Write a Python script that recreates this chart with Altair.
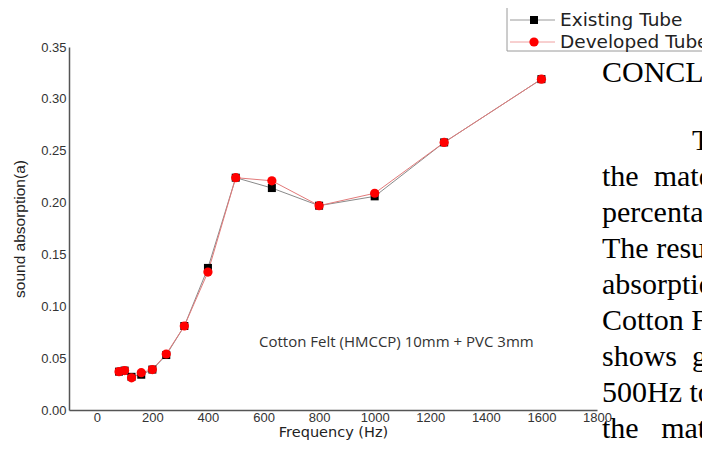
import altair as alt
import pandas as pd

# ---- data ----
freq = [80, 100, 125, 160, 200, 250, 315, 400, 500, 630, 800, 1000, 1250, 1600]
existing = [0.037, 0.038, 0.032, 0.034, 0.039, 0.053, 0.081, 0.137, 0.224, 0.214, 0.197, 0.206, 0.258, 0.319]
developed = [0.037, 0.038, 0.031, 0.036, 0.039, 0.054, 0.081, 0.133, 0.224, 0.221, 0.197, 0.209, 0.258, 0.319]
series_names = ["Existing Tube", "Developed Tube"]
x_ticks = [0, 200, 400, 600, 800, 1000, 1200, 1400, 1600, 1800]
y_ticks = [0.0, 0.05, 0.10, 0.15, 0.20, 0.25, 0.30, 0.35]
note = "Cotton Felt (HMCCP) 10mm + PVC 3mm"
side_text = ["CONCLUSION", "The", "the\u00a0\u00a0material", "percentage", "The results",
             "absorption", "Cotton Felt", "shows\u00a0\u00a0good", "500Hz to", "the\u00a0\u00a0\u00a0material"]

ex_df = pd.DataFrame({"freq": freq, "alpha": existing, "series": series_names[0]})
dev_df = pd.DataFrame({"freq": freq, "alpha": developed, "series": series_names[1]})
one = pd.DataFrame({"k": [0]})

W, H = 528, 363
PAD_L, PAD_T = 61, 39
SVG_W, SVG_H = 694, 432

x_enc = alt.X("freq:Q", scale=alt.Scale(domain=[-100, 1800], nice=False, zero=False),
              axis=alt.Axis(values=x_ticks, format="d", title="Frequency (Hz)",
                            labelFlush=False, labelOverlap=False, labelPadding=1,
                            titleFont="DejaVu Sans", titleFontSize=14.5,
                            titleBaseline="alphabetic", titleY=26))
y_enc = alt.Y("alpha:Q", scale=alt.Scale(domain=[0, 0.35], nice=False, zero=False),
              axis=alt.Axis(values=y_ticks, format=".2f", title="sound absorption(a)",
                            labelOverlap=False, labelPadding=3, labelFlush=False,
                            titleFontSize=15.5, titlePadding=13))

line_ex = alt.Chart(ex_df).mark_line(color="#8a8a8a", strokeWidth=1).encode(x=x_enc, y=y_enc)
line_dev = alt.Chart(dev_df).mark_line(color="#e27a7a", strokeWidth=1).encode(x=x_enc, y=y_enc)
pts_ex = alt.Chart(ex_df).mark_point(shape="square", filled=True, color="#000000",
                                     size=64, opacity=1).encode(x=x_enc, y=y_enc)
pts_dev = alt.Chart(dev_df).mark_point(shape="circle", filled=True, color="#ff0000",
                                       size=85, opacity=1).encode(x=x_enc, y=y_enc)

layers = [line_ex, line_dev, pts_ex, pts_dev]

# annotation inside the plot
layers.append(alt.Chart(one).mark_text(font="Open Sans", fontSize=15, color="#333333",
                                       align="left", baseline="middle").encode(
    x=alt.value(190), y=alt.value(295), text=alt.value(note)))

# manual legend (box clipped at the right edge like the reference)
LX, LY = 438, -40
layers.append(alt.Chart(one).mark_rect(fill="white", stroke="#9a9a9a", strokeWidth=1).encode(
    x=alt.value(LX), x2=alt.value(LX + 300), y=alt.value(LY), y2=alt.value(LY + 44)))
legend_rows = [(series_names[0], "#9a9a9a", "square", "#000000", 64, LY + 13),
               (series_names[1], "#f0a0a0", "circle", "#ff0000", 85, LY + 35)]
for name, lc, shp, mc, sz, yy in legend_rows:
    layers.append(alt.Chart(one).mark_rule(color=lc, strokeWidth=1).encode(
        x=alt.value(LX + 3), x2=alt.value(LX + 48), y=alt.value(yy)))
    layers.append(alt.Chart(one).mark_point(shape=shp, filled=True, color=mc, size=sz,
                                            opacity=1).encode(x=alt.value(LX + 27), y=alt.value(yy)))
    layers.append(alt.Chart(one).mark_text(font="DejaVu Sans", fontSize=18.5, color="#222222",
                                           align="left", baseline="middle").encode(
        x=alt.value(LX + 53), y=alt.value(yy), text=alt.value(name)))

# the page text cropped on the right of the reference
side_pos = [(533, 35), (623, 103)] + [(533, 139 + 36 * i) for i in range(8)]
for txt, (px, py) in zip(side_text, side_pos):
    layers.append(alt.Chart(one).mark_text(font="Liberation Serif", fontSize=30, color="#000000",
                                           align="left", baseline="alphabetic").encode(
        x=alt.value(px), y=alt.value(py), text=alt.value(txt)))

chart = alt.layer(*layers).properties(
    width=W, height=H,
    padding={"left": PAD_L, "top": PAD_T, "right": SVG_W - PAD_L - W, "bottom": SVG_H - PAD_T - H},
    autosize=alt.AutoSizeParams(type="none"),
    background="white",
).configure_view(stroke=None).configure_axis(
    grid=False, ticks=False, domainColor="#555555", domainWidth=1.5,
    labelFont="Liberation Sans", labelFontSize=13, labelColor="#333333",
    titleFont="Liberation Sans", titleFontWeight="normal", titleColor="#222222",
)

chart.save("out.html", embed_options={"renderer": "svg", "actions": False})
